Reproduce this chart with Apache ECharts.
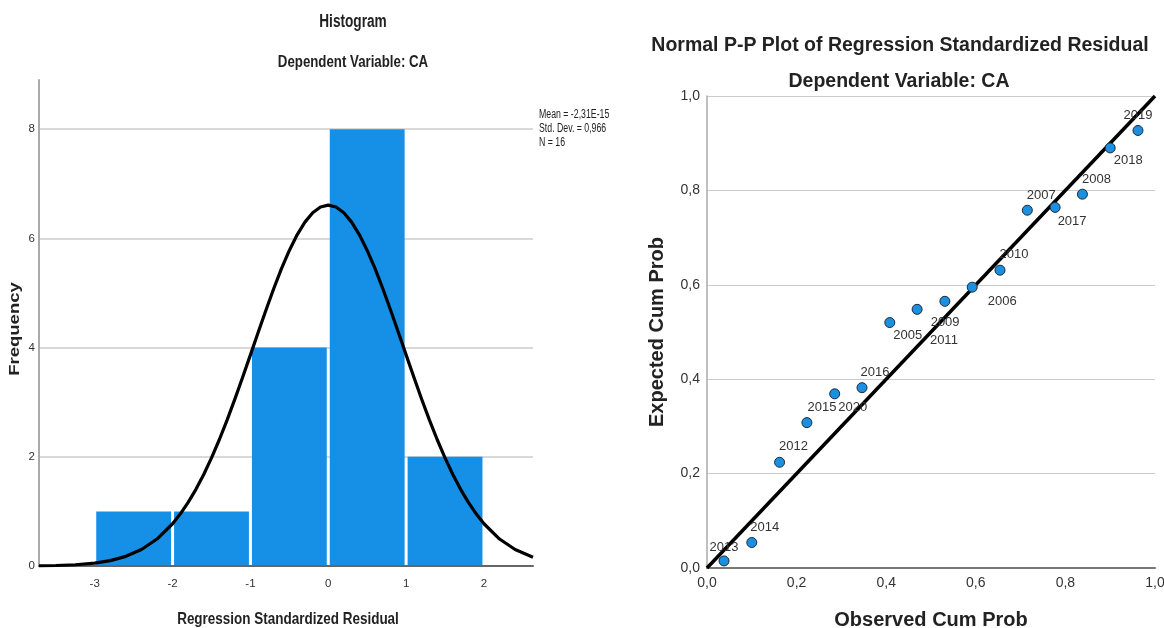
<!DOCTYPE html>
<html>
<head>
<meta charset="utf-8">
<script src="https://cdn.jsdelivr.net/npm/echarts@6/dist/echarts.min.js"></script>
<style>
html,body{margin:0;padding:0;background:#fff;}
#chart{width:1164px;height:628px;}
</style>
</head>
<body>
<div id="chart"></div>
<script>
// ---------- Histogram data ----------
const binStart = [-3, -2, -1, 0, 1];
const binEnd   = [-2, -1, 0, 1, 2];
const binCount = [1, 1, 4, 8, 2];
const histXTicks = [-3, -2, -1, 0, 1, 2];
const histYTicks = [0, 2, 4, 6, 8];
const statsLines = ['Mean = -2,31E-15', 'Std. Dev. = 0,966', 'N = 16'];
// normal curve, values
const curveX = [-3.716, -3.5, -3.25, -3.0, -2.8, -2.6, -2.4, -2.2, -2.0, -1.9, -1.8, -1.7, -1.6, -1.5, -1.4, -1.3, -1.2, -1.1,
                -1.0, -0.9, -0.8, -0.7, -0.6, -0.5, -0.4, -0.3, -0.2, -0.1, 0,
                0.1, 0.2, 0.3, 0.4, 0.5, 0.6, 0.7, 0.8, 0.9, 1.0, 1.1, 1.2, 1.3, 1.4, 1.5, 1.6, 1.7, 1.8, 1.9,
                2.0, 2.2, 2.4, 2.63];
const curveY = [0.004, 0.009, 0.023, 0.053, 0.099, 0.177, 0.302, 0.494, 0.774, 0.955, 1.164, 1.404, 1.676, 1.979, 2.312, 2.671, 3.055, 3.455,
                3.866, 4.281, 4.689, 5.082, 5.449, 5.779, 6.065, 6.297, 6.468, 6.573, 6.608,
                6.573, 6.468, 6.297, 6.065, 5.779, 5.449, 5.082, 4.689, 4.281, 3.866, 3.455, 3.055, 2.671, 2.312, 1.979, 1.676, 1.404, 1.164, 0.955,
                0.774, 0.494, 0.302, 0.162];

// ---------- P-P plot data ----------
const ppYears    = ['2013','2014','2012','2015','2020','2016','2005','2009','2011','2006','2010','2007','2017','2008','2018','2019'];
const ppObserved = [0.038, 0.100, 0.162, 0.223, 0.285, 0.346, 0.408, 0.469, 0.531, 0.592, 0.654, 0.715, 0.777, 0.838, 0.900, 0.962];
const ppExpected = [0.015, 0.054, 0.224, 0.308, 0.369, 0.382, 0.520, 0.548, 0.565, 0.595, 0.631, 0.758, 0.764, 0.792, 0.890, 0.927];
const ppTicks = [0, 0.2, 0.4, 0.6, 0.8, 1.0];

// label placement (styling only: px offsets of label centre from point centre)
const ppLabelOffset = {
  '2013':[0,-13], '2014':[13,-15], '2012':[14,-16], '2015':[15,-15], '2020':[18,14], '2016':[13,-15],
  '2005':[18,13], '2009':[28,13], '2011':[-1,39], '2006':[30,14], '2010':[14,-16], '2007':[14,-15],
  '2017':[17,14], '2008':[14,-15], '2018':[18,13], '2019':[0,-15]
};

const arial = '"Liberation Sans",Arial,Helvetica,sans-serif';
const comma1 = v => v.toFixed(1).replace('.', ',');
const SQ = 0.78; // horizontal squeeze of the histogram panel's text

const chart = echarts.init(document.getElementById('chart'), null, {renderer: 'canvas'});

const histBars = binStart.map((s, i) => [s, binEnd[i], binCount[i]]);
const curveData = curveX.map((x, i) => [x, curveY[i]]);
const ppData = ppYears.map((y, i) => ({name: y, value: [ppObserved[i], ppExpected[i]]}));

function sqText(txt, x, y, size, weight, align, sx, sy, rot) {
  return {
    type: 'text', x: x, y: y, scaleX: sx, scaleY: sy, rotation: rot || 0, silent: true,
    style: {text: txt, x: 0, y: 0, align: align, verticalAlign: 'middle',
            font: weight + ' ' + size + 'px ' + arial, fill: '#222'}
  };
}

chart.setOption({
  animation: false,
  backgroundColor: '#ffffff',
  title: [
    {text: 'Normal P-P Plot of Regression Standardized Residual', left: 895, top: 31, textAlign: 'center',
     textStyle: {fontFamily: arial, fontWeight: 'bold', fontSize: 19.5, color: '#222'}},
    {text: 'Dependent Variable: CA', left: 894, top: 67, textAlign: 'center',
     textStyle: {fontFamily: arial, fontWeight: 'bold', fontSize: 19.5, color: '#222'}}
  ],
  graphic: [
    sqText('Histogram', 353, 22, 17.5, 'bold', 'center', SQ, 1),
    sqText('Dependent Variable: CA', 353, 62, 17, 'bold', 'center', SQ, 1),
    sqText('Regression Standardized Residual', 288, 619, 17.3, 'bold', 'center', SQ, 1),
    sqText('Frequency', 15, 329, 18.5, 'bold', 'center', 1, SQ, Math.PI / 2),
    sqText(statsLines[0], 539, 115, 12.5, 'normal', 'left', 0.7, 1),
    sqText(statsLines[1], 539, 129, 12.5, 'normal', 'left', 0.7, 1),
    sqText(statsLines[2], 539, 143, 12.5, 'normal', 'left', 0.7, 1)
  ],
  grid: [
    {left: 39, top: 80, width: 494, height: 486, outerBoundsMode: 'none', containLabel: false},
    {left: 707, top: 96, width: 448, height: 472, outerBoundsMode: 'none', containLabel: false}
  ],
  xAxis: [
    {
      type: 'value', gridIndex: 0, min: -3.716, max: 2.63,
      axisLine: {show: true, onZero: false, lineStyle: {color: '#666', width: 2}},
      axisTick: {show: false, customValues: histXTicks},
      axisLabel: {customValues: histXTicks, fontFamily: arial, fontSize: 11.5, color: '#333', margin: 12,
                  formatter: v => String(v)},
      splitLine: {show: false}
    },
    {
      type: 'value', gridIndex: 1, min: 0, max: 1, interval: 0.2,
      name: 'Observed Cum Prob', nameLocation: 'middle', nameGap: 42,
      nameTextStyle: {fontFamily: arial, fontWeight: 'bold', fontSize: 20, color: '#222'},
      axisLine: {show: true, onZero: false, lineStyle: {color: '#777', width: 2}},
      axisTick: {show: false},
      axisLabel: {fontFamily: arial, fontSize: 14, color: '#333', margin: 8, formatter: comma1},
      splitLine: {show: false}
    }
  ],
  yAxis: [
    {
      type: 'value', gridIndex: 0, min: 0, max: 8.9, interval: 2,
      axisLine: {show: true, onZero: false, lineStyle: {color: '#aaa', width: 2}},
      axisTick: {show: false},
      axisLabel: {fontFamily: arial, fontSize: 11.5, color: '#333', margin: 4, showMaxLabel: false,
                  formatter: v => histYTicks.includes(v) ? String(v) : ''},
      splitLine: {show: true, showMaxLine: false, showMinLine: false, lineStyle: {color: '#cccccc', width: 1.5}}
    },
    {
      type: 'value', gridIndex: 1, min: 0, max: 1, interval: 0.2,
      name: 'Expected Cum Prob', nameLocation: 'middle', nameGap: 40,
      nameTextStyle: {fontFamily: arial, fontWeight: 'bold', fontSize: 20, color: '#222'},
      axisLine: {show: true, onZero: false, lineStyle: {color: '#aaa', width: 1.5}},
      axisTick: {show: false},
      axisLabel: {fontFamily: arial, fontSize: 14, color: '#333', margin: 7, formatter: comma1},
      splitLine: {show: true, showMinLine: false, lineStyle: {color: '#cccccc', width: 1.2}}
    }
  ],
  series: [
    {
      type: 'custom', xAxisIndex: 0, yAxisIndex: 0,
      data: histBars,
      encode: {x: [0, 1], y: 2},
      renderItem: function (params, api) {
        const a = api.coord([api.value(0), api.value(2)]);
        const b = api.coord([api.value(1), 0]);
        return {
          type: 'rect',
          shape: {x: a[0] + 1.5, y: a[1], width: b[0] - a[0] - 3, height: b[1] - a[1] - 1},
          style: {fill: '#1590e6'}
        };
      },
      z: 2
    },
    {
      type: 'line', xAxisIndex: 0, yAxisIndex: 0,
      data: curveData, smooth: false, showSymbol: false, symbol: 'none',
      lineStyle: {color: '#000', width: 3.2, join: 'round'}, z: 3
    },
    {
      type: 'line', xAxisIndex: 1, yAxisIndex: 1,
      data: [[0, 0], [1, 1]], showSymbol: false, symbol: 'none',
      lineStyle: {color: '#000', width: 3.5}, z: 3, clip: false
    },
    {
      type: 'scatter', xAxisIndex: 1, yAxisIndex: 1,
      data: ppData, symbolSize: 10,
      itemStyle: {color: '#1b8fe0', borderColor: '#1a2a3a', borderWidth: 1, opacity: 1},
      label: {show: true, position: 'inside', formatter: p => p.name,
              fontFamily: arial, fontSize: 13, color: '#333', align: 'center', verticalAlign: 'middle'},
      labelLayout: function (p) {
        const o = ppLabelOffset[ppYears[p.dataIndex]];
        return {dx: o[0], dy: o[1], hideOverlap: false, moveOverlap: false};
      },
      z: 4
    }
  ]
});
</script>
</body>
</html>
